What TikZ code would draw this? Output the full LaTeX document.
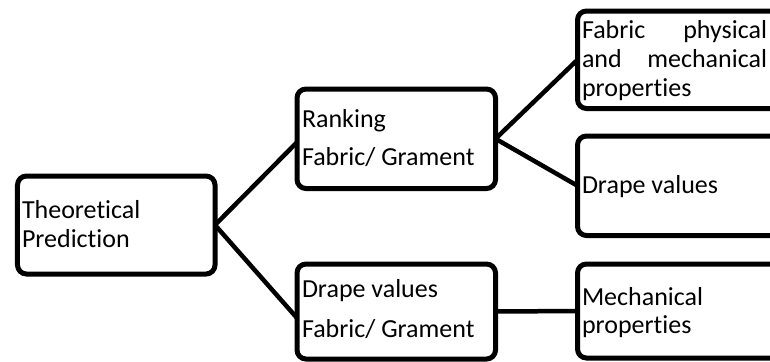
\documentclass[tikz,border=0pt]{standalone}
\usepackage{fontspec}
\setmainfont{Carlito}[Ligatures={NoCommon,NoRequired,NoContextual}]
\tikzset{
  box/.style={draw=black, line width=5bp, rounded corners=9bp, fill=white,
              inner sep=0pt, outer sep=0pt},
  conn/.style={draw=black, line width=4.5bp},
  txt/.style={anchor=base west, inner sep=0pt, outer sep=0pt,
              font=\fontsize{26bp}{29bp}\selectfont}
}
\begin{document}
\begin{tikzpicture}[x=1bp,y=-1bp]
\clip (0,0) rectangle (770,361);
\fill[white] (0,0) rectangle (770,361);
% boxes
\node[box, minimum width=197.5bp, minimum height=98bp] (theo) at (116.25,225) {};
\node[box, minimum width=198.5bp, minimum height=99.5bp] (rank) at (396.25,138.75) {};
\node[box, minimum width=198.5bp, minimum height=95bp] (drape) at (396.25,311.5) {};
\node[box, minimum width=260bp, minimum height=97.5bp] (phys) at (707.5,59.75) {};
\node[box, minimum width=260bp, minimum height=99.5bp] (dval) at (707.5,185.75) {};
\node[box, minimum width=260bp, minimum height=94bp] (mech) at (707.5,311) {};
% connectors
\draw[conn] (theo.east) -- ([yshift=-3.5bp]rank.west);
\draw[conn] (theo.east) -- ([yshift=-6.5bp]drape.west);
\draw[conn] (rank.east) -- (phys.west);
\draw[conn] (rank.east) -- (dval.west);
\draw[conn] (drape.east) -- (mech.west);
% texts
\node[txt] (t1) at (22,218) {Theoretical};
\node[txt] (t2) at (22,247) {Prediction};
\node[txt] (r1) at (302,127) {Ranking};
\node[txt] (r2) at (302,165) {Fabric/ Grament};
\node[txt] (d1) at (302,297) {Drape values};
\node[txt] (d2) at (302,337) {Fabric/ Grament};
\node[txt] (p1) at (582,38) {\hbox to 185bp{Fabric\hfill physical}};
\node[txt] (p2) at (582,67) {\hbox to 185bp{and\hfill mechanical}};
\node[txt] (p3) at (582,96) {properties};
\node[txt] (v1) at (582,193) {Drape values};
\node[txt] (m1) at (582,305) {Mechanical};
\node[txt] (m2) at (582,333) {properties};
\end{tikzpicture}
\end{document}
